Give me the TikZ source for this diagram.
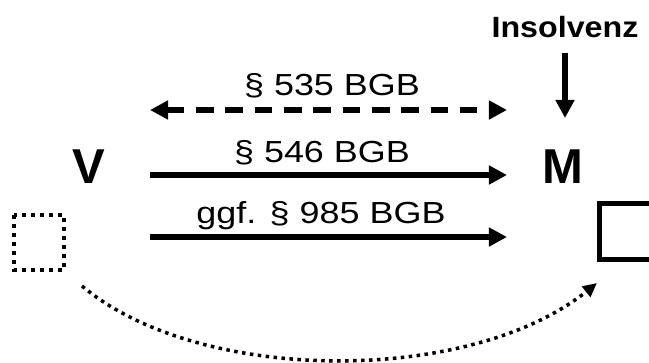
\documentclass[tikz,border=0pt]{standalone}
\usepackage{fontspec}
\setmainfont{Liberation Sans}
\newfontfamily\lblfont[FakeStretch=1.18]{Liberation Sans}
\newfontfamily\insfont[FakeStretch=1.1]{Liberation Sans}
\usetikzlibrary{arrows.meta}

\begin{document}
\begin{tikzpicture}[
        x=0.03cm, y=-0.03cm,
        party/.style={inner sep=0pt, anchor=base, font=\fontsize{41.8}{44}\selectfont\bfseries},
        norm/.style={inner sep=0pt, anchor=base, font=\lblfont\fontsize{26}{28}\selectfont},
        event/.style={inner sep=0pt, anchor=base, font=\insfont\fontsize{25}{27}\selectfont\bfseries},
        claim/.style={line width=4.3pt, -{Triangle[length=15.4pt, width=15.4pt]}},
        lease/.style={line width=4.3pt, dash pattern=on 15pt off 10pt,
            {Triangle[length=15.4pt, width=15.4pt]}-{Triangle[length=15.4pt, width=15.4pt]}},
        thing/.style={line width=4.3pt},
        oldthing/.style={line width=3.4pt, dash pattern=on 3.4pt off 4.3pt},
        transfer/.style={line width=3pt, dash pattern=on 3pt off 3.8pt,
            -{Triangle[length=12pt, width=11pt]}},
    ]
    \useasboundingbox (0,0) rectangle (649,362);

    \node[party]   (V)    at (89,183)  {V};
    \node[party]   (M)    at (563,183) {M};
    \node[event]   (Ins)  at (565,37)  {Insolvenz};

    \node[norm]    (N535) at (332,95)  {§ 535 BGB};
    \node[norm]    (N546) at (322,162) {§ 546 BGB};
    \node[norm]    (N985) at (321,223) {ggf. § 985 BGB};

    \coordinate    (L1)   at (150,110);
    \coordinate    (R1)   at (507,110);
    \coordinate    (L2)   at (150,175);
    \coordinate    (R2)   at (507,175);
    \coordinate    (L3)   at (150,237);
    \coordinate    (R3)   at (507,237);
    \coordinate    (T)    at (565,53);
    \coordinate    (B)    at (565,118);

    \coordinate    (Sold) at (82,286);
    \coordinate    (Snew) at (597,283);

    % Sache
    \draw[oldthing] (14,215) rectangle (64,270);
    \draw[thing]    (599.5,203.5) rectangle (655.5,259.5);

    \draw[lease] (L1) -- (R1);
    \draw[claim] (L2) -- (R2);
    \draw[claim] (L3) -- (R3);
    \draw[claim] (T)  -- (B);

    \draw[transfer] (Sold) .. controls (200,385) and (470,385) .. (Snew);
\end{tikzpicture}
\end{document}
